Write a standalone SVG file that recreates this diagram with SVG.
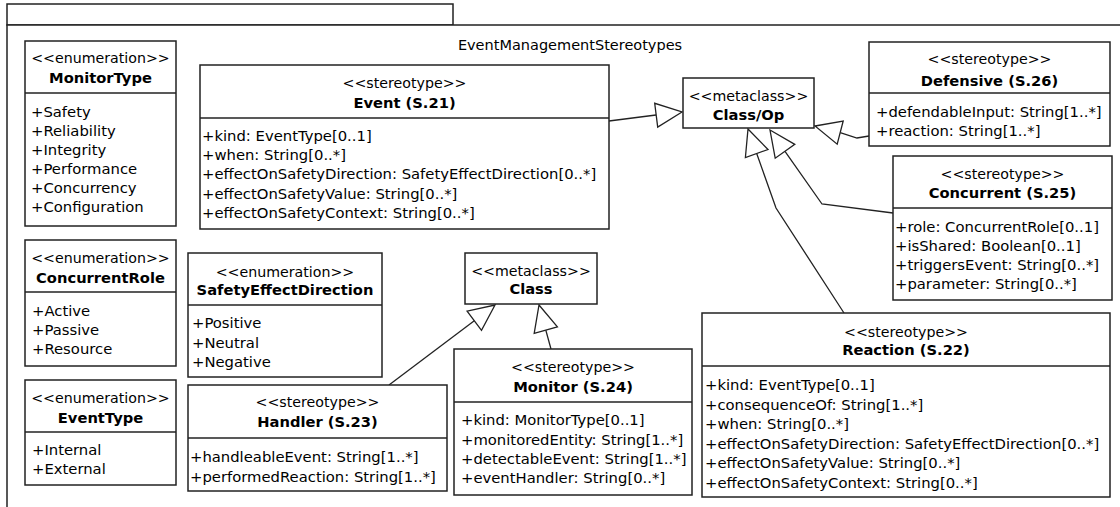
<svg xmlns="http://www.w3.org/2000/svg" width="1120" height="507" viewBox="0 0 1120 507">
<style>
.frame{fill:#fff;stroke:#222;stroke-width:1.5}
.box{fill:#fff;stroke:#222;stroke-width:1.5}
.div{stroke:#222;stroke-width:1.5}
.conn{fill:none;stroke:#222;stroke-width:1.3}
.head{fill:#fff;stroke:#222;stroke-width:1.3;stroke-linejoin:miter}
text{font-family:"DejaVu Sans",Verdana,sans-serif;fill:#000}
.st{font-size:14.2px;text-anchor:middle}
.nm{font-size:14.7px;font-weight:bold;text-anchor:middle}
.it{font-size:14.8px}
.ttl{font-size:14.5px;text-anchor:middle}
</style>
<rect width="1120" height="507" fill="#fff"/>
<g id="package">
<rect class="frame" x="7" y="4" width="446" height="21"/>
<rect class="frame" x="7" y="25" width="1130" height="500"/>
<text class="ttl" x="570" y="50">EventManagementStereotypes</text>
</g>
<g id="connectors">
<polyline class="conn" points="609,121 656,115"/>
<polygon class="head" points="682,112 657.7,127.1 654.7,103.3"/>
<polyline class="conn" points="869,136 857,138 840.2,132.6"/>
<polygon class="head" points="815,126 843.2,121 837.2,144.2"/>
<polyline class="conn" points="893,213 822,204 785,151.3"/>
<polygon class="head" points="770,130 794.8,144.4 775.2,158.2"/>
<polyline class="conn" points="844,313 776,208 756.7,153.5"/>
<polygon class="head" points="748,129 768,149.5 745.4,157.5"/>
<polyline class="conn" points="389,385 474.3,320.7"/>
<polygon class="head" points="495,305 481.5,330.3 467.1,311.1"/>
<polyline class="conn" points="551,349 545.8,330.1"/>
<polygon class="head" points="539,305 557.4,326.9 534.2,333.3"/>
</g>
<g id="MonitorType">
<rect class="box" x="25" y="41" width="151" height="185"/>
<line class="div" x1="25" y1="93" x2="176" y2="93"/>
<text class="st" x="100.5" y="63">&lt;&lt;enumeration&gt;&gt;</text>
<text class="nm" x="100.5" y="83">MonitorType</text>
<text class="it" x="31" y="117">+Safety</text>
<text class="it" x="31" y="136">+Reliability</text>
<text class="it" x="31" y="155">+Integrity</text>
<text class="it" x="31" y="174">+Performance</text>
<text class="it" x="31" y="193">+Concurrency</text>
<text class="it" x="31" y="212">+Configuration</text>
</g>
<g id="ConcurrentRole">
<rect class="box" x="25" y="240" width="151" height="126"/>
<line class="div" x1="25" y1="292" x2="176" y2="292"/>
<text class="st" x="100.5" y="263">&lt;&lt;enumeration&gt;&gt;</text>
<text class="nm" x="100.5" y="283">ConcurrentRole</text>
<text class="it" x="32" y="316">+Active</text>
<text class="it" x="32" y="335">+Passive</text>
<text class="it" x="32" y="354">+Resource</text>
</g>
<g id="EventType">
<rect class="box" x="25" y="380" width="151" height="105"/>
<line class="div" x1="25" y1="432" x2="176" y2="432"/>
<text class="st" x="100.5" y="403">&lt;&lt;enumeration&gt;&gt;</text>
<text class="nm" x="100.5" y="423">EventType</text>
<text class="it" x="32" y="455">+Internal</text>
<text class="it" x="32" y="474">+External</text>
</g>
<g id="SafetyEffectDirection">
<rect class="box" x="188" y="253" width="194" height="124"/>
<line class="div" x1="188" y1="305" x2="382" y2="305"/>
<text class="st" x="285" y="277">&lt;&lt;enumeration&gt;&gt;</text>
<text class="nm" x="285" y="295">SafetyEffectDirection</text>
<text class="it" x="192" y="328">+Positive</text>
<text class="it" x="192" y="348">+Neutral</text>
<text class="it" x="192" y="367">+Negative</text>
</g>
<g id="Handler">
<rect class="box" x="188" y="385" width="259" height="106"/>
<line class="div" x1="188" y1="438" x2="447" y2="438"/>
<text class="st" x="317.5" y="407">&lt;&lt;stereotype&gt;&gt;</text>
<text class="nm" x="317.5" y="427">Handler (S.23)</text>
<text class="it" x="190" y="462">+handleableEvent: String[1..*]</text>
<text class="it" x="190" y="482">+performedReaction: String[1..*]</text>
</g>
<g id="Event">
<rect class="box" x="200" y="65" width="409" height="164"/>
<line class="div" x1="200" y1="118" x2="609" y2="118"/>
<text class="st" x="404.5" y="88">&lt;&lt;stereotype&gt;&gt;</text>
<text class="nm" x="404.5" y="108">Event (S.21)</text>
<text class="it" x="202" y="141">+kind: EventType[0..1]</text>
<text class="it" x="202" y="160">+when: String[0..*]</text>
<text class="it" x="202" y="179">+effectOnSafetyDirection: SafetyEffectDirection[0..*]</text>
<text class="it" x="202" y="199">+effectOnSafetyValue: String[0..*]</text>
<text class="it" x="202" y="218">+effectOnSafetyContext: String[0..*]</text>
</g>
<g id="Class">
<rect class="box" x="465" y="253" width="132" height="51"/>
<text class="st" x="531" y="276">&lt;&lt;metaclass&gt;&gt;</text>
<text class="nm" x="531" y="294">Class</text>
</g>
<g id="Monitor">
<rect class="box" x="454" y="349" width="238" height="146"/>
<line class="div" x1="454" y1="402" x2="692" y2="402"/>
<text class="st" x="573" y="372">&lt;&lt;stereotype&gt;&gt;</text>
<text class="nm" x="573" y="392">Monitor (S.24)</text>
<text class="it" x="461" y="425">+kind: MonitorType[0..1]</text>
<text class="it" x="461" y="445">+monitoredEntity: String[1..*]</text>
<text class="it" x="461" y="464">+detectableEvent: String[1..*]</text>
<text class="it" x="461" y="483">+eventHandler: String[0..*]</text>
</g>
<g id="ClassOp">
<rect class="box" x="683" y="78" width="131" height="50"/>
<text class="st" x="748.5" y="101">&lt;&lt;metaclass&gt;&gt;</text>
<text class="nm" x="748.5" y="120">Class/Op</text>
</g>
<g id="Defensive">
<rect class="box" x="869" y="42" width="241" height="104"/>
<line class="div" x1="869" y1="93" x2="1110" y2="93"/>
<text class="st" x="989.5" y="64">&lt;&lt;stereotype&gt;&gt;</text>
<text class="nm" x="989.5" y="86">Defensive (S.26)</text>
<text class="it" x="876" y="117">+defendableInput: String[1..*]</text>
<text class="it" x="876" y="136">+reaction: String[1..*]</text>
</g>
<g id="Concurrent">
<rect class="box" x="893" y="156" width="219" height="144"/>
<line class="div" x1="893" y1="208" x2="1112" y2="208"/>
<text class="st" x="1002.5" y="179">&lt;&lt;stereotype&gt;&gt;</text>
<text class="nm" x="1002.5" y="198">Concurrent (S.25)</text>
<text class="it" x="895" y="232">+role: ConcurrentRole[0..1]</text>
<text class="it" x="895" y="251">+isShared: Boolean[0..1]</text>
<text class="it" x="895" y="270">+triggersEvent: String[0..*]</text>
<text class="it" x="895" y="289">+parameter: String[0..*]</text>
</g>
<g id="Reaction">
<rect class="box" x="702" y="313" width="408" height="184"/>
<line class="div" x1="702" y1="366" x2="1110" y2="366"/>
<text class="st" x="906" y="337">&lt;&lt;stereotype&gt;&gt;</text>
<text class="nm" x="906" y="355">Reaction (S.22)</text>
<text class="it" x="705" y="390">+kind: EventType[0..1]</text>
<text class="it" x="705" y="410">+consequenceOf: String[1..*]</text>
<text class="it" x="705" y="429">+when: String[0..*]</text>
<text class="it" x="705" y="449">+effectOnSafetyDirection: SafetyEffectDirection[0..*]</text>
<text class="it" x="705" y="468">+effectOnSafetyValue: String[0..*]</text>
<text class="it" x="705" y="488">+effectOnSafetyContext: String[0..*]</text>
</g>
</svg>
